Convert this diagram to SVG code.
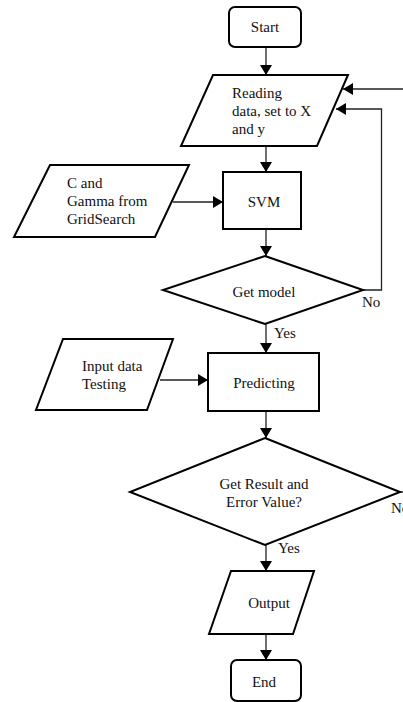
<svg xmlns="http://www.w3.org/2000/svg" width="403" height="702" viewBox="0 0 403 702">
<defs>
<marker id="arr" markerUnits="userSpaceOnUse" markerWidth="12" markerHeight="12" refX="10" refY="6" orient="auto">
<path d="M0,0 L10,6 L0,12 Z" fill="#000"/>
</marker>
<style>
.shape{fill:#fff;stroke:#000;stroke-width:2;}
.conn{fill:none;stroke:#222;stroke-width:1.3;}
text{font-family:"Liberation Serif","Times New Roman",serif;font-size:15px;fill:#111;}
.c{text-anchor:middle;}
</style>
</defs>
<rect width="403" height="702" fill="#fff"/>
<g id="connectors">
<path class="conn" d="M266,47 L266,75" marker-end="url(#arr)"/>
<path class="conn" d="M266,146 L266,172" marker-end="url(#arr)"/>
<path class="conn" d="M173,202 L223,202" marker-end="url(#arr)"/>
<path class="conn" d="M266,229 L266,256" marker-end="url(#arr)"/>
<path class="conn" d="M363,290 L381.5,290 L381.5,109 L336,109" marker-end="url(#arr)"/>
<path class="conn" d="M266,324 L266,353" marker-end="url(#arr)"/>
<path class="conn" d="M160,380 L208,380" marker-end="url(#arr)"/>
<path class="conn" d="M266,411 L266,438" marker-end="url(#arr)"/>
<path class="conn" d="M400,492 L410,492"/>
<path class="conn" d="M410,89 L343,89" marker-end="url(#arr)"/>
<path class="conn" d="M266,545 L266,571" marker-end="url(#arr)"/>
<path class="conn" d="M266,634 L266,660" marker-end="url(#arr)"/>
<text x="362" y="307">No</text>
<text x="274" y="338">Yes</text>
<text x="391" y="513">No</text>
<text x="278" y="553">Yes</text>
</g>
<g id="start">
<rect class="shape" x="229" y="7" width="72" height="40" rx="6"/>
<text class="c" x="265" y="32">Start</text>
</g>
<g id="reading">
<polygon class="shape" points="213,75 348,75 317,146 181,146"/>
<text x="232" y="98">Reading</text>
<text x="232" y="116">data, set to X</text>
<text x="232" y="134">and y</text>
</g>
<g id="params">
<polygon class="shape" points="50,165 189,165 155,237 14,237"/>
<text x="67" y="188">C and</text>
<text x="67" y="206">Gamma from</text>
<text x="67" y="224">GridSearch</text>
</g>
<g id="svm">
<rect class="shape" x="223" y="172" width="78" height="57"/>
<text class="c" x="264" y="207">SVM</text>
</g>
<g id="getmodel">
<polygon class="shape" points="265,256 363,290 265,324 163,290"/>
<text class="c" x="264" y="297">Get model</text>
</g>
<g id="input">
<polygon class="shape" points="63,339 173,339 147,410 36,410"/>
<text x="82" y="371">Input data</text>
<text x="82" y="389">Testing</text>
</g>
<g id="predicting">
<rect class="shape" x="208" y="353" width="111" height="58"/>
<text class="c" x="264" y="388">Predicting</text>
</g>
<g id="getresult">
<polygon class="shape" points="265,438 400,492 265,545 130,492"/>
<text class="c" x="264" y="489">Get Result and</text>
<text class="c" x="264" y="507">Error Value?</text>
</g>
<g id="output">
<polygon class="shape" points="231,571 314,571 293,634 209,634"/>
<text class="c" x="269" y="608">Output</text>
</g>
<g id="end">
<rect class="shape" x="231" y="660" width="70" height="41" rx="6"/>
<text class="c" x="264" y="687">End</text>
</g>
</svg>
